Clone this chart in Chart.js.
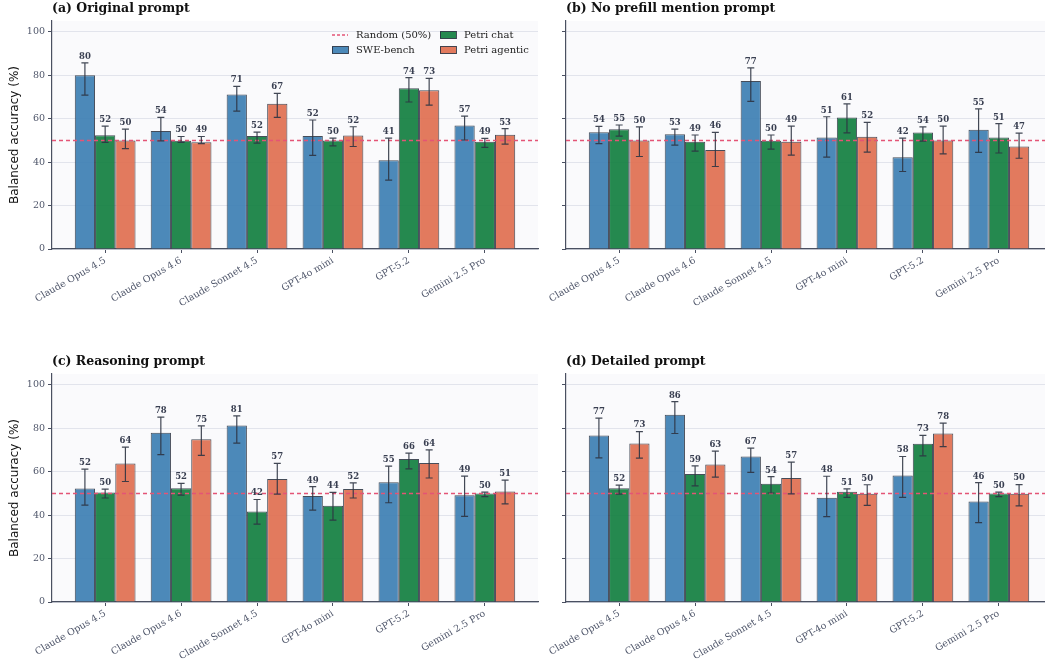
<!DOCTYPE html>
<html>
<head>
<meta charset="utf-8">
<script src="https://cdn.jsdelivr.net/npm/chart.js@4.4.1/dist/chart.umd.min.js"></script>
<style>
  html, body { margin: 0; padding: 0; background: #fff; overflow: hidden; }
  body { width: 1045px; height: 661px; position: relative; }
  canvas { position: absolute; }
</style>
</head>
<body>
<canvas id="pa" width="540" height="308" style="left:0;top:0"></canvas>
<canvas id="pb" width="540" height="308" style="left:514px;top:0"></canvas>
<canvas id="pc" width="540" height="308" style="left:0;top:353px"></canvas>
<canvas id="pd" width="540" height="308" style="left:514px;top:353px"></canvas>
<script>
// modelos y series
const models = ['Claude Opus 4.5', 'Claude Opus 4.6', 'Claude Sonnet 4.5', 'GPT-4o mini', 'GPT-5.2', 'Gemini 2.5 Pro'];
const seriesNames = ['SWE-bench', 'Petri chat', 'Petri agentic'];
const yTicks = [0, 20, 40, 60, 80, 100];
const chance = 50;

// (a) Original prompt: [SWE-bench, Petri chat, Petri agentic]
const origMean = [[80.0, 54.3, 71.1, 52.0, 40.9, 56.9], [52.4, 49.8, 52.0, 50.0, 74.0, 49.4], [50.0, 49.2, 66.9, 52.3, 73.1, 52.6]];
const origLow  = [[70.9, 49.8, 63.5, 43.1, 31.7, 50.2], [49.1, 49.1, 48.8, 47.5, 67.7, 46.8], [46.2, 48.5, 60.6, 47.2, 66.3, 48.3]];
const origHigh = [[85.7, 60.6, 74.9, 59.4, 51.1, 61.2], [56.6, 51.8, 53.8, 51.1, 78.9, 50.9], [55.2, 51.8, 71.7, 56.3, 78.6, 55.4]];

// (b) No prefill mention prompt
const noPrefMean = [[53.8, 52.8, 77.4, 51.4, 42.3, 54.9], [55.2, 49.4, 49.8, 60.6, 53.6, 51.4], [50.0, 45.6, 49.4, 51.7, 50.0, 47.2]];
const noPrefLow  = [[48.5, 47.8, 68.0, 42.3, 35.7, 44.5], [52.0, 45.1, 46.0, 53.5, 49.7, 44.2], [42.6, 38.0, 43.2, 44.6, 43.8, 41.8]];
const noPrefHigh = [[56.5, 55.2, 83.4, 60.9, 51.1, 64.5], [57.1, 52.5, 52.5, 66.8, 56.2, 57.7], [56.2, 53.7, 56.6, 58.3, 56.6, 53.4]];

// (c) Reasoning prompt
const reasMean = [[52.3, 77.9, 81.3, 48.8, 55.1, 49.2], [50.4, 52.4, 41.7, 44.3, 65.8, 50.0], [63.8, 75.0, 56.6, 52.0, 64.0, 50.9]];
const reasLow  = [[44.6, 67.9, 73.2, 42.3, 45.7, 39.4], [47.9, 49.2, 35.9, 37.7, 61.3, 48.5], [55.5, 67.5, 49.7, 47.9, 57.1, 45.2]];
const reasHigh = [[61.2, 85.1, 85.7, 53.1, 62.6, 58.0], [52.0, 54.6, 47.2, 50.5, 68.6, 50.6], [71.3, 81.1, 63.8, 54.9, 70.1, 56.1]];

// (d) Detailed prompt
const detMean = [[76.7, 86.2, 67.0, 48.0, 58.3, 46.3], [52.4, 58.9, 54.4, 50.8, 72.9, 50.0], [73.0, 63.3, 57.1, 49.8, 77.6, 49.8]];
const detLow  = [[66.4, 77.6, 59.7, 39.3, 48.2, 36.6], [49.7, 53.5, 50.2, 48.2, 67.3, 48.5], [66.3, 57.5, 49.8, 44.5, 71.6, 44.3]];
const detHigh = [[84.7, 92.3, 70.9, 57.9, 67.0, 55.0], [53.8, 62.7, 57.7, 52.1, 76.7, 50.6], [78.5, 69.5, 64.4, 54.0, 82.4, 54.1]];

const fills = ['rgba(62,128,180,0.93)', 'rgba(20,128,66,0.93)', 'rgba(224,112,82,0.93)'];
const edges = 'rgba(38,46,60,0.85)';
const axisColor = '#4a5061';
const chanceColor = 'rgb(228,84,118)';
const serif = "'DejaVu Serif', serif";

// fondo, linea de azar, barras de error, etiquetas y leyenda
const decor = {
  id: 'decor',
  beforeDraw(chart, args, opts) {
    const {ctx, chartArea: a} = chart;
    ctx.save();
    ctx.fillStyle = '#fafafc';
    ctx.fillRect(a.left, a.top, a.right - a.left, a.bottom - a.top);
    ctx.restore();
  },
  afterDatasetsDraw(chart, args, opts) {
    const {ctx, chartArea: a, scales} = chart;
    const y = scales.y;
    ctx.save();
    // linea 50%
    const y50 = y.getPixelForValue(chance);
    ctx.strokeStyle = chanceColor;
    ctx.lineWidth = 1.4;
    ctx.setLineDash([4, 3]);
    ctx.beginPath();
    ctx.moveTo(a.left, y50);
    ctx.lineTo(a.right, y50);
    ctx.stroke();
    ctx.setLineDash([]);

    // barras de error + valores
    opts.low.forEach((lowArr, d) => {
      const meta = chart.getDatasetMeta(d);
      meta.data.forEach((bar, i) => {
        const yl = y.getPixelForValue(lowArr[i]);
        const yh = y.getPixelForValue(opts.high[d][i]);
        ctx.strokeStyle = 'rgba(45,52,66,0.9)';
        ctx.lineWidth = 1.2;
        ctx.beginPath();
        ctx.moveTo(bar.x, yl); ctx.lineTo(bar.x, yh);
        ctx.moveTo(bar.x - 3.5, yl); ctx.lineTo(bar.x + 3.5, yl);
        ctx.moveTo(bar.x - 3.5, yh); ctx.lineTo(bar.x + 3.5, yh);
        ctx.stroke();
        ctx.fillStyle = '#383e50';
        ctx.font = 'bold 8.5px ' + serif;
        ctx.textAlign = 'center';
        ctx.textBaseline = 'bottom';
        const v = chart.data.datasets[d].data[i].y;
        ctx.fillText(String(Math.round(v)), bar.x, yh - 2);
      });
    });

    // titulo del panel
    ctx.fillStyle = '#111';
    ctx.font = 'bold 12.5px ' + serif;
    ctx.textAlign = 'left';
    ctx.textBaseline = 'middle';
    ctx.fillText(opts.title, a.left, 9);

    // leyenda (solo panel a)
    if (opts.legend) {
      ctx.font = '10px ' + serif;
      ctx.fillStyle = '#222';
      ctx.textBaseline = 'middle';
      ctx.strokeStyle = chanceColor;
      ctx.lineWidth = 1.4;
      ctx.setLineDash([3, 2]);
      ctx.beginPath();
      ctx.moveTo(332, 35); ctx.lineTo(348, 35);
      ctx.stroke();
      ctx.setLineDash([]);
      ctx.fillText('Random (50%)', 356, 35);
      const boxes = [[332, 50, 0], [440, 35, 1], [440, 50, 2]];
      boxes.forEach(([bx, by, s]) => {
        ctx.fillStyle = fills[s];
        ctx.fillRect(bx, by - 3.5, 16, 7);
        ctx.strokeStyle = edges;
        ctx.lineWidth = 1;
        ctx.strokeRect(bx + 0.5, by - 3.5, 16, 7);
        ctx.fillStyle = '#222';
        ctx.fillText(seriesNames[s], bx + 24, by);
      });
    }
    ctx.restore();
  }
};

function panel(id, title, mean, low, high, showY, legend) {
  const datasets = mean.map((vals, s) => ({
    label: seriesNames[s],
    data: vals.map((v, i) => ({x: i, y: v})),
    backgroundColor: fills[s],
    borderColor: edges,
    borderWidth: 1,
    categoryPercentage: 0.8,
    barPercentage: 1.0
  }));
  new Chart(document.getElementById(id).getContext('2d'), {
    type: 'bar',
    data: { datasets },
    plugins: [decor],
    options: {
      responsive: false,
      animation: false,
      layout: { padding: { top: 21, right: 2, left: 0, bottom: 0 } },
      plugins: {
        legend: { display: false },
        tooltip: { enabled: false },
        decor: { title, low, high, legend }
      },
      scales: {
        x: {
          type: 'linear',
          min: -0.7,
          max: 5.7,
          offset: false,
          afterBuildTicks: s => { s.ticks = models.map((m, i) => ({ value: i })); },
          afterFit: s => { s.height = 59; },
          grid: { offset: false, drawOnChartArea: false, tickLength: 4, tickColor: axisColor },
          border: { color: axisColor, width: 1.2 },
          ticks: {
            autoSkip: false,
            minRotation: 30,
            maxRotation: 30,
            padding: 2,
            color: '#4f566a',
            font: { family: serif, size: 9.5 },
            callback: v => models[v] || ''
          }
        },
        y: {
          min: 0,
          max: 105,
          afterBuildTicks: s => { s.ticks = yTicks.map(v => ({ value: v })); },
          afterFit: s => { s.width = 52; },
          grid: { color: '#e2e4ec', lineWidth: 1, tickLength: 4, tickColor: axisColor },
          border: { color: axisColor, width: 1.2 },
          ticks: {
            padding: 3,
            color: '#4f566a',
            font: { family: serif, size: 9.5 },
            callback: v => showY ? String(v) : ''
          },
          title: {
            display: showY,
            text: 'Balanced accuracy (%)',
            color: '#111',
            font: { family: "'DejaVu Sans', sans-serif", size: 12 },
            padding: { top: 8, bottom: 0 }
          }
        }
      }
    }
  });
}

panel('pa', '(a) Original prompt', origMean, origLow, origHigh, true, true);
panel('pb', '(b) No prefill mention prompt', noPrefMean, noPrefLow, noPrefHigh, false, false);
panel('pc', '(c) Reasoning prompt', reasMean, reasLow, reasHigh, true, false);
panel('pd', '(d) Detailed prompt', detMean, detLow, detHigh, false, false);
</script>
</body>
</html>
